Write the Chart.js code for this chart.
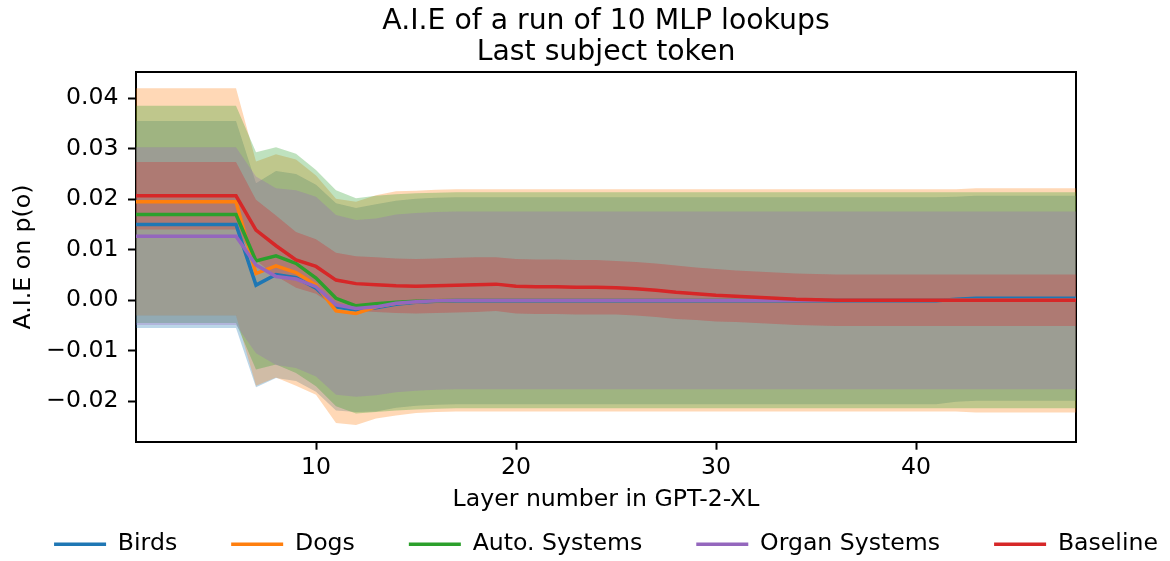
<!DOCTYPE html>
<html>
<head>
<meta charset="utf-8">
<script src="https://cdn.jsdelivr.net/npm/chart.js@4.4.1/dist/chart.umd.min.js"></script>
<style>
html,body{margin:0;padding:0;background:#fff;overflow:hidden;width:1170px;height:561px;}
#wrap{position:absolute;left:0;top:0;width:1212px;height:566px;}
</style>
</head>
<body>
<div id="wrap"><canvas id="c" width="1212" height="566"></canvas></div>
<script>
// ---------- data ----------
const layers = [1,2,3,4,5,6,7,8,9,10,11,12,13,14,15,16,17,18,19,20,21,22,23,24,25,26,27,28,29,30,31,32,33,34,35,36,37,38,39,40,41,42,43,44,45,46,47,48];
const xTicks = [10, 20, 30, 40];
const yTicks = [-0.02, -0.01, 0.00, 0.01, 0.02, 0.03, 0.04];

const birdsMean = [0.0150,0.0150,0.0150,0.0150,0.0150,0.0150,0.0030,0.0051,0.0045,0.0024,-0.0013,-0.0019,-0.0015,-0.0008,-0.0004,-0.0002,-0.0001,
  -0.0001,-0.0001,-0.0001,-0.0001,-0.0001,-0.0001,-0.0001,-0.0001,-0.0001,-0.0001,-0.0001,-0.0001,-0.0001,-0.0001,-0.0001,-0.0001,-0.0001,-0.0001,-0.0001,-0.0001,-0.0001,-0.0001,-0.0001,-0.0001,
  0.0002,0.0004,0.0004,0.0004,0.0004,0.0004,0.0004];
const birdsStd = [0.0205,0.0205,0.0205,0.0205,0.0205,0.0205,0.0202,0.0205,0.0205,0.0205,0.0205,0.0202,0.0205,0.0205,0.0205,0.0205,0.0205,
  0.0205,0.0205,0.0205,0.0205,0.0205,0.0205,0.0205,0.0205,0.0205,0.0205,0.0205,0.0205,0.0205,0.0205,0.0205,0.0205,0.0205,0.0205,0.0205,0.0205,0.0205,0.0205,0.0205,0.0205,
  0.0203,0.0203,0.0203,0.0203,0.0203,0.0203,0.0203];

const dogsMean = [0.0195,0.0195,0.0195,0.0195,0.0195,0.0195,0.0053,0.0068,0.0055,0.0030,-0.0021,-0.0026,-0.0013,-0.0006,-0.0003,-0.0001,
  0,0,0,0,0,0,0,0,0,0,0,0,0,0,0,0,0,0,0,0,0,0,0,0,0,0,0,0,0,0,0,0];
const dogsStd = [0.0225,0.0225,0.0225,0.0225,0.0225,0.0225,0.0222,0.0221,0.0224,0.0217,0.0222,0.0221,0.0221,0.0222,
  0.0220,0.0220,0.0220,0.0220,0.0220,0.0220,0.0220,0.0220,0.0220,0.0220,0.0220,0.0220,0.0220,0.0220,0.0220,0.0220,0.0220,0.0220,0.0220,0.0220,0.0220,0.0220,0.0220,0.0220,0.0220,0.0220,0.0220,0.0220,
  0.0222,0.0222,0.0222,0.0222,0.0222,0.0222];

const autoMean = [0.0170,0.0170,0.0170,0.0170,0.0170,0.0170,0.0078,0.0088,0.0073,0.0044,0.0004,-0.0011,-0.0007,-0.0004,-0.0002,-0.0001,
  0,0,0,0,0,0,0,0,0,0,0,0,0,0,0,0,0,0,0,0,0,0,0,0,0,0,0,0,0,0,0,0];
const autoStd = [0.0215,0.0215,0.0215,0.0215,0.0215,0.0215,0.0215,0.0215,0.0217,0.0214,0.0214,0.0213,
  0.0214,0.0214,0.0214,0.0214,0.0214,0.0214,0.0214,0.0214,0.0214,0.0214,0.0214,0.0214,0.0214,0.0214,0.0214,0.0214,0.0214,0.0214,0.0214,0.0214,0.0214,0.0214,0.0214,0.0214,
  0.0214,0.0214,0.0214,0.0214,0.0214,0.0214,0.0214,0.0214,0.0214,0.0214,0.0214,0.0214];

const organMean = [0.0127,0.0127,0.0127,0.0127,0.0127,0.0127,0.0070,0.0047,0.0042,0.0027,-0.0009,-0.0016,-0.0013,-0.0006,-0.0003,-0.0001,
  0,0,0,0,0,0,0,0,0,0,0,0,0,0,0,0,0,0,0,0,0,0,0,0,0,0,0,0,0,0,0,0];
const organStd = [0.0176,0.0176,0.0176,0.0176,0.0176,0.0176,0.0175,0.0175,0.0176,0.0178,0.0178,0.0175,0.0175,
  0.0176,0.0176,0.0176,0.0176,0.0176,0.0176,0.0176,0.0176,0.0176,0.0176,0.0176,0.0176,0.0176,0.0176,0.0176,0.0176,0.0176,0.0176,0.0176,0.0176,0.0176,0.0176,0.0176,
  0.0176,0.0176,0.0176,0.0176,0.0176,0.0176,0.0176,0.0176,0.0176,0.0176,0.0176,0.0176];

const baselineMean = [0.0207,0.0207,0.0207,0.0207,0.0207,0.0207,0.0139,0.0108,0.0080,0.0067,0.0040,0.0033,0.0031,0.0029,0.0028,0.0029,0.0030,0.0031,0.0032,0.0028,
  0.0027,0.0027,0.0026,0.0026,0.0025,0.0023,0.0020,0.0016,0.0013,0.0010,0.0008,0.0006,0.0004,0.0002,0.0001,
  0,0,0,0,0,0,0,0,0,0,0,0,0];
const baselineStd = [0.0067,0.0067,0.0067,0.0067,0.0067,0.0067,0.0060,0.0060,0.0055,0.0054,
  0.0054,0.0054,0.0054,0.0054,0.0054,0.0054,0.0054,0.0054,0.0053,0.0054,0.0054,0.0054,0.0054,0.0054,
  0.0053,0.0053,0.0053,0.0053,0.0052,0.0052,
  0.0051,0.0051,0.0051,0.0051,0.0051,0.0051,0.0051,0.0051,0.0051,0.0051,0.0051,0.0051,0.0051,0.0051,0.0051,0.0051,0.0051,0.0051];

const seriesLabels = ['Birds', 'Dogs', 'Auto. Systems', 'Organ Systems', 'Baseline'];
const seriesMeans = [birdsMean, dogsMean, autoMean, organMean, baselineMean];
const seriesStds = [birdsStd, dogsStd, autoStd, organStd, baselineStd];
const seriesRGB = [[31,119,180],[255,127,14],[44,160,44],[148,103,189],[214,39,40]];

// ---------- build datasets ----------
const FONT = "'DejaVu Sans', sans-serif";
const BASE = 23.6;
const Y_MIN = -0.0280, Y_MAX = 0.04515;

const datasets = [];
seriesLabels.forEach((lab, i) => {
  const c = 'rgb(' + seriesRGB[i].join(',') + ')';
  datasets.push({
    label: lab,
    data: layers.map((x, k) => ({x: x, y: seriesMeans[i][k]})),
    borderColor: c, backgroundColor: c, borderWidth: 3.5,
    pointRadius: 0, pointHoverRadius: 0, tension: 0, fill: false,
    order: 4 - i
  });
});
seriesLabels.forEach((lab, i) => {
  const fc = 'rgba(' + seriesRGB[i].join(',') + ',0.3)';
  const upperIndex = datasets.length;
  datasets.push({
    label: lab + ' upper',
    data: layers.map((x, k) => ({x: x, y: seriesMeans[i][k] + seriesStds[i][k]})),
    borderWidth: 0, borderColor: 'rgba(0,0,0,0)', backgroundColor: fc,
    pointRadius: 0, pointHoverRadius: 0, tension: 0, fill: false,
    order: 10 - i
  });
  datasets.push({
    label: lab + ' lower',
    data: layers.map((x, k) => ({x: x, y: seriesMeans[i][k] - seriesStds[i][k]})),
    borderWidth: 0, borderColor: 'rgba(0,0,0,0)', backgroundColor: fc,
    pointRadius: 0, pointHoverRadius: 0, tension: 0, fill: upperIndex,
    order: 10 - i
  });
});

function fmtY(v) {
  const s = Math.abs(v).toFixed(2);
  return (v < -1e-9 ? '\u2212' : '') + s;
}

Chart.defaults.font.family = FONT;
Chart.defaults.font.size = BASE;
Chart.defaults.color = '#000';

const LEGEND_PAD = 54;
const CANVAS_H = 566;
const AREA_BOTTOM = 441.7;
const legendH = BASE + LEGEND_PAD + 10;
const X_H = (CANVAS_H - legendH) - AREA_BOTTOM;

new Chart(document.getElementById('c'), {
  type: 'line',
  data: { datasets: datasets },
  options: {
    responsive: false,
    devicePixelRatio: 1,
    animation: false,
    events: [],
    layout: { padding: 0 },
    plugins: {
      filler: { drawTime: 'beforeDatasetsDraw', propagate: false },
      tooltip: { enabled: false },
      title: {
        display: true,
        text: ['A.I.E of a run of 10 MLP lookups', 'Last subject token'],
        color: '#000',
        font: { family: FONT, size: 28.3, weight: 'normal', lineHeight: 1.095 },
        padding: { top: 5.9, bottom: 4.4 }
      },
      legend: {
        display: true,
        position: 'bottom',
        labels: {
          boxWidth: 52, boxHeight: 3.4, padding: LEGEND_PAD, color: '#000',
          font: { family: FONT, size: BASE },
          filter: (item) => item.datasetIndex < 5,
          sort: (a, b) => a.datasetIndex - b.datasetIndex,
          generateLabels: (chart) => Chart.defaults.plugins.legend.labels.generateLabels(chart).map(it => Object.assign({}, it, {lineWidth: 0}))
        }
      }
    },
    scales: {
      x: {
        type: 'linear', position: 'bottom', min: 1, max: 48,
        afterBuildTicks: (s) => { s.ticks = xTicks.map(v => ({value: v})); },
        afterFit: (s) => { s.height = X_H; },
        grid: { display: true, drawOnChartArea: false, drawTicks: true, tickLength: 8, tickWidth: 2, tickColor: '#000' },
        border: { display: true, color: '#000', width: 2 },
        ticks: { padding: 4, color: '#000', font: { size: BASE }, maxRotation: 0, autoSkip: false, callback: (v) => String(v) },
        title: { display: true, text: 'Layer number in GPT-2-XL', color: '#000', font: { size: BASE }, padding: { top: 0, bottom: -35.8 } }
      },
      xTop: {
        type: 'linear', position: 'top', min: 1, max: 48,
        afterFit: (s) => { s.height = 0; },
        grid: { display: false, drawTicks: false },
        ticks: { display: false },
        border: { display: true, color: '#000', width: 2 }
      },
      y: {
        type: 'linear', position: 'left', min: Y_MIN, max: Y_MAX,
        afterBuildTicks: (s) => { s.ticks = yTicks.map(v => ({value: v})); },
        afterFit: (s) => { s.width = 136; },
        grid: { display: true, drawOnChartArea: false, drawTicks: true, tickLength: 8, tickWidth: 2, tickColor: '#000' },
        border: { display: true, color: '#000', width: 2 },
        ticks: { padding: 9.5, color: '#000', font: { size: BASE }, autoSkip: false, callback: (v) => fmtY(v) },
        title: { display: true, text: 'A.I.E on p(o)', color: '#000', font: { size: BASE }, padding: { top: 10, bottom: 0 } }
      },
      yRight: {
        type: 'linear', position: 'right', min: Y_MIN, max: Y_MAX,
        afterFit: (s) => { s.width = 136; },
        grid: { display: false, drawTicks: false },
        ticks: { display: false },
        border: { display: true, color: '#000', width: 2 }
      }
    }
  }
});
</script>
</body>
</html>
